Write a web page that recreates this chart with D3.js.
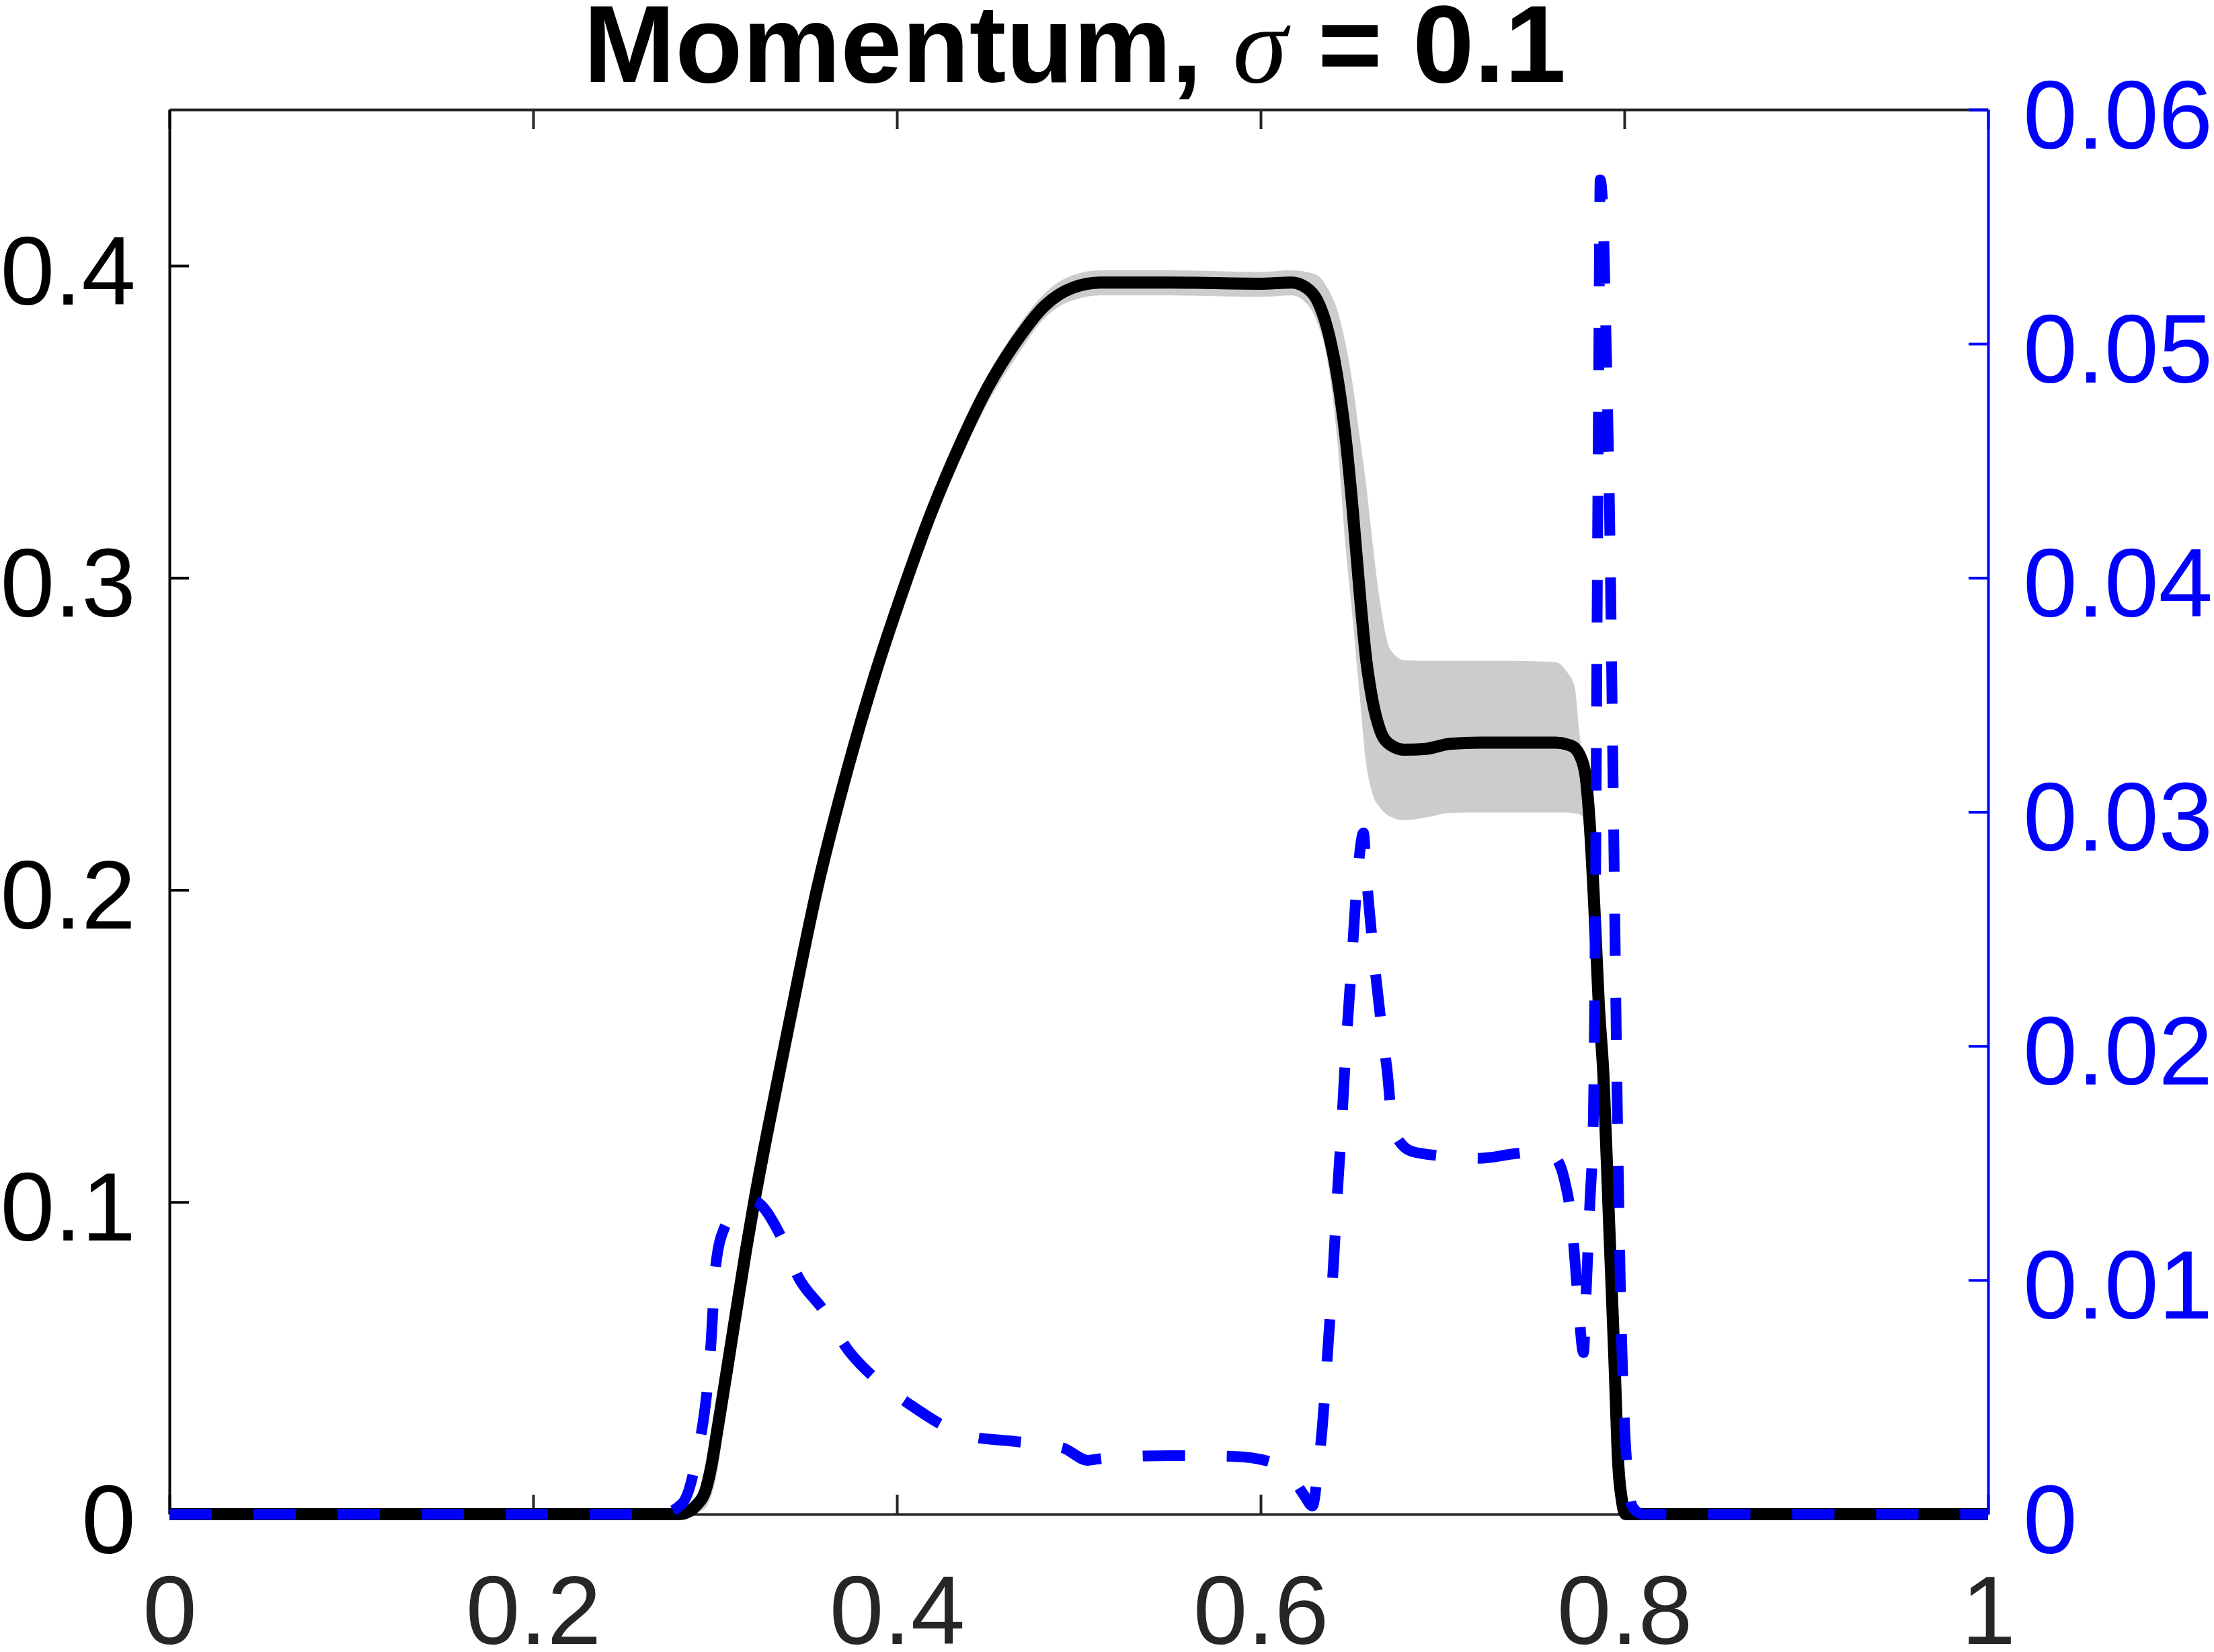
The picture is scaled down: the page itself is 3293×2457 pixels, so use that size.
<!DOCTYPE html>
<html>
<head>
<meta charset="utf-8">
<script src="https://cdn.jsdelivr.net/npm/d3@7"></script>
<style>
  html, body { margin: 0; padding: 0; background: #ffffff; }
  svg { display: block; }
</style>
</head>
<body>
<svg id="chart" width="3293" height="2457"></svg>
<script>
// ---------------- data ----------------
const titleMain = "Momentum, ";
const titleSymbol = "σ";
const titleRest = " = 0.1";

const xTicks = [0, 0.2, 0.4, 0.6, 0.8, 1];
const xTickLabels = ["0", "0.2", "0.4", "0.6", "0.8", "1"];
const leftTicks = [0, 0.1, 0.2, 0.3, 0.4];
const leftTickLabels = ["0", "0.1", "0.2", "0.3", "0.4"];
const rightTicks = [0, 0.01, 0.02, 0.03, 0.04, 0.05, 0.06];
const rightTickLabels = ["0", "0.01", "0.02", "0.03", "0.04", "0.05", "0.06"];

// mean momentum and its band (left axis)
const meanX = [0, 0.28, 0.286, 0.29, 0.2947, 0.298, 0.301, 0.305, 0.308, 0.317, 0.322, 0.329, 0.34, 0.356, 0.373, 0.388, 0.404, 0.419, 0.435, 0.45, 0.466, 0.481, 0.497, 0.512, 0.55, 0.6, 0.617, 0.625, 0.631, 0.6366, 0.642, 0.6467, 0.6506, 0.6545, 0.658, 0.6614, 0.6655, 0.6713, 0.6794, 0.691, 0.7042, 0.7208, 0.737, 0.762, 0.7686, 0.7727, 0.7753, 0.7786, 0.7811, 0.7834, 0.786, 0.7885, 0.7915, 0.7945, 0.7967, 0.7985, 0.8007, 0.803, 1];
const meanY = [0, 0, 0.001, 0.003, 0.0075, 0.0155, 0.026, 0.0405, 0.0515, 0.0845, 0.1015, 0.123, 0.155, 0.200, 0.239, 0.269, 0.297, 0.321, 0.343, 0.361, 0.376, 0.387, 0.393, 0.3946, 0.3946, 0.3942, 0.3946, 0.393, 0.389, 0.380, 0.365, 0.345, 0.322, 0.295, 0.274, 0.261, 0.2515, 0.2465, 0.2449, 0.2452, 0.2468, 0.2472, 0.2472, 0.2472, 0.2466, 0.2455, 0.2434, 0.2368, 0.2200, 0.1956, 0.1627, 0.1405, 0.095, 0.050, 0.0155, 0.005, 0, 0, 0];
const bandUpper = [0, 0.0005, 0.003, 0.006, 0.010, 0.019, 0.030, 0.045, 0.056, 0.089, 0.106, 0.127, 0.160, 0.205, 0.244, 0.274, 0.302, 0.326, 0.348, 0.365, 0.380, 0.391, 0.397, 0.3985, 0.3985, 0.398, 0.3985, 0.398, 0.397, 0.393, 0.386, 0.375, 0.362, 0.345, 0.330, 0.312, 0.293, 0.277, 0.2735, 0.2734, 0.2734, 0.2734, 0.2734, 0.2730, 0.2697, 0.265, 0.250, 0.238, 0.231, 0.213, 0.184, 0.154, 0.115, 0.070, 0.036, 0.014, 0.004, 0, 0];
const bandLower = [0, 0, 0, 0.0005, 0.002, 0.006, 0.013, 0.028, 0.039, 0.073, 0.091, 0.113, 0.146, 0.192, 0.233, 0.264, 0.292, 0.316, 0.338, 0.356, 0.371, 0.383, 0.389, 0.3905, 0.3905, 0.390, 0.3905, 0.388, 0.382, 0.370, 0.345, 0.310, 0.287, 0.262, 0.2407, 0.231, 0.2265, 0.2235, 0.2223, 0.2232, 0.2247, 0.2248, 0.2248, 0.2248, 0.2248, 0.2245, 0.2242, 0.222, 0.204, 0.176, 0.149, 0.118, 0.068, 0.025, 0.003, 0, 0, 0, 0];

// standard deviation (right axis)
const stdX = [0, 0.27, 0.282, 0.289, 0.2976, 0.3004, 0.305, 0.312, 0.3205, 0.3357, 0.3457, 0.3597, 0.3726, 0.388, 0.4078, 0.4262, 0.440, 0.4658, 0.491, 0.505, 0.51, 0.522, 0.5505, 0.5845, 0.607, 0.617, 0.624, 0.6285, 0.6314, 0.634, 0.637, 0.640, 0.6426, 0.644, 0.647, 0.650, 0.653, 0.6566, 0.658, 0.662, 0.667, 0.6695, 0.673, 0.683, 0.70, 0.72, 0.74, 0.753, 0.761, 0.767, 0.771, 0.7745, 0.7775, 0.779, 0.781, 0.783, 0.784, 0.785, 0.786, 0.7867, 0.788, 0.790, 0.792, 0.794, 0.796, 0.798, 0.800, 0.802, 0.804, 0.807, 0.81, 1];
const stdY = [0, 0, 0.00046, 0.0021, 0.0071, 0.0106, 0.0122, 0.0129, 0.0134, 0.01195, 0.01014, 0.0087, 0.00707, 0.0058, 0.00465, 0.00376, 0.00333, 0.0031, 0.00284, 0.0023, 0.00235, 0.00244, 0.0025, 0.00247, 0.0022, 0.0016, 0.0008, 0.00035, 0.0018, 0.0038, 0.0071, 0.0106, 0.0142, 0.0159, 0.020, 0.0235, 0.027, 0.0291, 0.0275, 0.024, 0.0205, 0.019, 0.0164, 0.0155, 0.0153, 0.0152, 0.0154, 0.0155, 0.0153, 0.0143, 0.0125, 0.0092, 0.0069, 0.0095, 0.0132, 0.0171, 0.025, 0.038, 0.050, 0.0570, 0.056, 0.050, 0.042, 0.030, 0.018, 0.009, 0.004, 0.0015, 0.0004, 0.0001, 0, 0];

// ---------------- layout ----------------
const W = 3293, H = 2457;
const plot = { left: 252, right: 2957, top: 163, bottom: 2252 };
const FONT = "'Liberation Sans', Arial, Helvetica, sans-serif";
const axisGray = "#262626";
const blue = "#0000ff";

const svg = d3.select("#chart");

const x = d3.scaleLinear().domain([0, 1]).range([plot.left, plot.right]);
const yL = d3.scaleLinear().domain([0, 0.45]).range([plot.bottom, plot.top]);
const yR = d3.scaleLinear().domain([0, 0.06]).range([plot.bottom, plot.top]);

// ---------------- axes (drawn beneath data) ----------------
function styleAxis(g, color) {
  g.select(".domain").attr("stroke", color).attr("stroke-width", 4);
  g.selectAll(".tick line").attr("stroke", color).attr("stroke-width", 4);
  g.selectAll(".tick text").attr("fill", color).attr("font-family", FONT).attr("font-size", 145);
}

// bottom x axis
const gxb = svg.append("g").attr("transform", `translate(0,${plot.bottom})`)
  .call(d3.axisBottom(x).tickValues(xTicks).tickSize(-29).tickSizeOuter(0)
    .tickFormat((d, i) => xTickLabels[i]));
styleAxis(gxb, axisGray);
gxb.selectAll(".tick text").attr("dy", null).attr("y", 193);

// top x axis (mirror)
const gxt = svg.append("g").attr("transform", `translate(0,${plot.top})`)
  .call(d3.axisTop(x).tickValues(xTicks).tickSize(-29).tickSizeOuter(0).tickFormat(""));
styleAxis(gxt, axisGray);

// left y axis
const gyl = svg.append("g").attr("transform", `translate(${plot.left},0)`)
  .call(d3.axisLeft(yL).tickValues(leftTicks).tickSize(-29).tickSizeOuter(0)
    .tickFormat((d, i) => leftTickLabels[i]));
styleAxis(gyl, "#000000");
gyl.selectAll(".tick text").attr("dy", null).attr("x", -50).attr("y", 57).attr("text-anchor", "end");

// right y axis
const gyr = svg.append("g").attr("transform", `translate(${plot.right},0)`)
  .call(d3.axisRight(yR).tickValues(rightTicks).tickSize(-29).tickSizeOuter(0)
    .tickFormat((d, i) => rightTickLabels[i]));
styleAxis(gyr, blue);
gyr.selectAll(".tick text").attr("dy", null).attr("x", 52).attr("y", 57).attr("text-anchor", "start");

// ---------------- data marks ----------------
const bandData = meanX.map((xv, i) => ({ x: xv, lo: bandLower[i], hi: bandUpper[i] }));
const meanData = meanX.map((xv, i) => ({ x: xv, y: meanY[i] }));
const stdData = stdX.map((xv, i) => ({ x: xv, y: stdY[i] }));

svg.append("path")
  .datum(bandData)
  .attr("fill", "#cccccc")
  .attr("stroke", "none")
  .attr("d", d3.area().curve(d3.curveMonotoneX)
    .x(d => x(d.x)).y0(d => yL(d.lo)).y1(d => yL(d.hi)));

svg.append("path")
  .datum(meanData)
  .attr("fill", "none")
  .attr("stroke", "#000000")
  .attr("stroke-width", 18)
  .attr("stroke-linejoin", "round")
  .attr("d", d3.line().curve(d3.curveMonotoneX).x(d => x(d.x)).y(d => yL(d.y)));

svg.append("path")
  .datum(stdData)
  .attr("fill", "none")
  .attr("stroke", blue)
  .attr("stroke-width", 16)
  .attr("stroke-dasharray", "63,62")
  .attr("stroke-linecap", "butt")
  .attr("stroke-linejoin", "round")
  .attr("d", d3.line().curve(d3.curveMonotoneX).x(d => x(d.x)).y(d => yR(d.y)));

// ---------------- title ----------------
const title = svg.append("text")
  .attr("x", (plot.left + plot.right) / 2 - 6)
  .attr("y", 122)
  .attr("text-anchor", "middle")
  .attr("font-family", FONT)
  .attr("font-size", 164)
  .attr("font-weight", "bold")
  .attr("fill", "#000000");
title.append("tspan").text(titleMain);
title.append("tspan")
  .attr("font-family", "'Liberation Serif', 'DejaVu Serif', serif")
  .attr("font-style", "italic")
  .attr("font-weight", "normal")
  .text(titleSymbol);
title.append("tspan").text(titleRest);
</script>
</body>
</html>
